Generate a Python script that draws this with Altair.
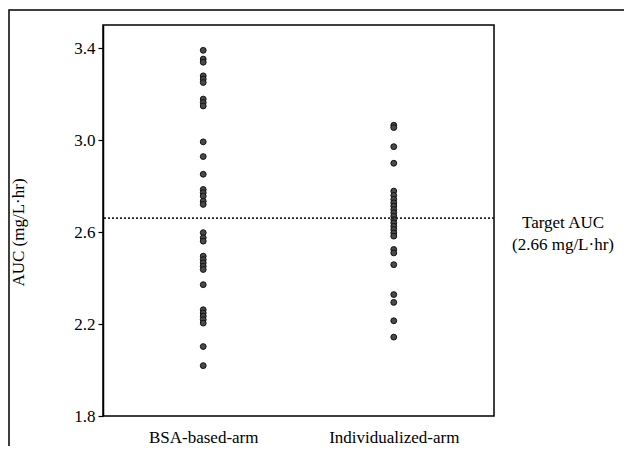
import altair as alt
import pandas as pd

bsa_values = [3.39, 3.352, 3.338, 3.279, 3.265, 3.250, 3.178, 3.163, 3.148, 2.992,
              2.928, 2.851, 2.785, 2.771, 2.756, 2.734, 2.720, 2.597, 2.575, 2.560,
              2.495, 2.480, 2.466, 2.451, 2.437, 2.371, 2.262, 2.248, 2.234, 2.219,
              2.204, 2.102, 2.019]
ind_values = [3.064, 3.054, 2.971, 2.899, 2.778, 2.759, 2.742, 2.727, 2.713, 2.698,
              2.684, 2.669, 2.654, 2.640, 2.625, 2.611, 2.596, 2.582, 2.524, 2.509,
              2.458, 2.328, 2.294, 2.214, 2.143]
categories = ["BSA-based-arm", "Individualized-arm"]
y_ticks = [1.8, 2.2, 2.6, 3.0, 3.4]
target_auc = 2.66
target_label = ["Target AUC", "(2.66 mg/L\u00b7hr)"]

df = pd.DataFrame({
    "arm": [categories[0]] * len(bsa_values) + [categories[1]] * len(ind_values),
    "auc": bsa_values + ind_values,
})

FONT = "Liberation Serif"
FS = 17

x_enc = alt.X("arm:N", sort=categories,
              scale=alt.Scale(type="point", padding=0.526),
              axis=alt.Axis(title=None, ticks=False, domain=False, labelAngle=0,
                            labelPadding=13, labelFontSize=FS, labelFont=FONT,
                            labelColor="black"))
y_scale = alt.Scale(domain=[1.8, 3.5], nice=False, zero=False)

points = alt.Chart(df).mark_point(
    filled=True, shape="circle", size=34, color="#4a4a4a",
    stroke="#111111", strokeWidth=1, opacity=1
).encode(
    x=x_enc,
    y=alt.Y("auc:Q", scale=y_scale,
            axis=alt.Axis(title="AUC (mg/L\u00b7hr)", values=y_ticks, format=".1f",
                          grid=False, tickSize=5, tickColor="black", domainColor="black",
                          domainWidth=1.5, tickWidth=1.2,
                          labelFontSize=FS, labelFont=FONT, labelColor="black",
                          titleFontSize=FS, titleFont=FONT, titleFontWeight="normal",
                          titleColor="black", titleX=-76, titleY=207, labelPadding=3)),
)

target_line = alt.Chart().mark_rule(
    color="#222222", strokeDash=[2, 2], strokeWidth=1.8
).encode(y=alt.datum(target_auc))

label = alt.Chart().mark_text(
    text=target_label, font=FONT, fontSize=FS, color="black",
    align="center", baseline="middle", lineHeight=22
).encode(x=alt.value(460), y=alt.datum(2.64))

frame = alt.Chart().mark_rect(fillOpacity=0, stroke="black", strokeWidth=1.5).encode(
    x=alt.value(-94), x2=alt.value(800), y=alt.value(-15), y2=alt.value(800))

chart = alt.layer(points, target_line, label, frame).properties(
    width=391, height=391,
    autosize=alt.AutoSizeParams(type="none"),
    padding={"left": 95, "top": 17, "right": 130, "bottom": 30},
).configure(background="white").configure_view(stroke="black", strokeWidth=1.5)

chart.save("out.html", embed_options={"renderer": "svg", "actions": False})
